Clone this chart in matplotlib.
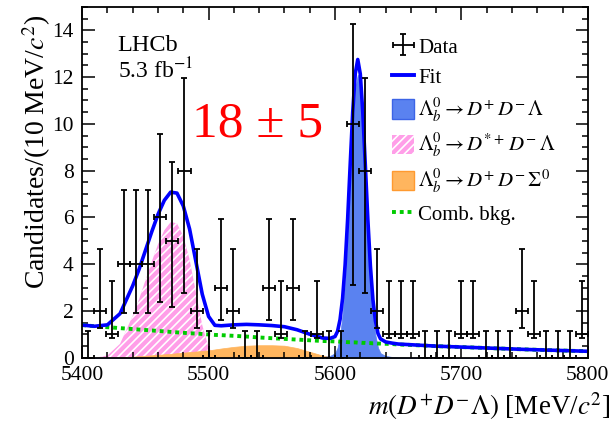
import matplotlib
matplotlib.use("Agg")
import matplotlib.pyplot as plt
from matplotlib.patches import Patch
from matplotlib.lines import Line2D
import numpy as np

plt.rcParams['font.family'] = ['Liberation Serif', 'DejaVu Serif']
plt.rcParams['mathtext.fontset'] = 'stix'
plt.rcParams['hatch.linewidth'] = 1.2

# binned data: 42 equal bins across the plotted mass window
bin_edges = np.linspace(5400, 5800, 43)
counts = [0, 2, 1, 4, 4, 4, 6, 5, 8, 2,
          0, 3, 2, 0, 0, 3, 1, 3, 0, 1,
          0, 0, 10, 8, 2, 1, 1, 1, 0, 0,
          0, 1, 1, 0, 0, 0, 2, 1, 0, 0,
          0, 1]

# asymmetric poisson intervals (lower, upper) per count
poisson_lo = {0: 0.0, 1: 0.17, 2: 0.71, 3: 1.37, 4: 2.09, 5: 2.84, 6: 3.62, 8: 5.23, 10: 6.89}
poisson_hi = {0: 1.14, 1: 3.30, 2: 4.64, 3: 5.92, 4: 7.16, 5: 8.38, 6: 9.58, 8: 11.94, 10: 14.27}

# fit components
m_curve = [5400, 5410, 5420, 5430, 5440, 5445, 5450, 5455, 5460, 5465,
           5470, 5475, 5480, 5485, 5490, 5495, 5500, 5505, 5510, 5520,
           5530, 5540, 5550, 5560, 5570, 5580, 5590, 5596, 5600, 5602,
           5604, 5606, 5608, 5610, 5612, 5614, 5616, 5618, 5620, 5622,
           5624, 5626, 5628, 5630, 5632, 5634, 5636, 5640, 5645, 5650,
           5660, 5680, 5700, 5750, 5800]
comb_bkg = [1.40, 1.35, 1.31, 1.27, 1.23, 1.21, 1.19, 1.17, 1.15, 1.13,
            1.11, 1.09, 1.07, 1.05, 1.04, 1.02, 1.00, 0.98, 0.97, 0.94,
            0.91, 0.87, 0.84, 0.81, 0.78, 0.75, 0.72, 0.71, 0.70, 0.70,
            0.69, 0.68, 0.68, 0.67, 0.67, 0.66, 0.66, 0.65, 0.65, 0.64,
            0.64, 0.63, 0.63, 0.62, 0.62, 0.61, 0.61, 0.60, 0.59, 0.57,
            0.55, 0.50, 0.46, 0.36, 0.28]
dstar_refl = [0.0, 0.0, 0.10, 0.60, 1.80, 2.50, 3.30, 4.10, 4.85, 5.45,
              5.80, 5.75, 5.20, 4.20, 2.80, 1.40, 0.45, 0.05, 0.0, 0.0,
              0.0, 0.0, 0.0, 0.0, 0.0, 0.0, 0.0, 0.0, 0.0, 0.0,
              0.0, 0.0, 0.0, 0.0, 0.0, 0.0, 0.0, 0.0, 0.0, 0.0,
              0.0, 0.0, 0.0, 0.0, 0.0, 0.0, 0.0, 0.0, 0.0, 0.0,
              0.0, 0.0, 0.0, 0.0, 0.0]
sigma0_bkg = [0.0, 0.0, 0.0, 0.02, 0.05, 0.07, 0.09, 0.11, 0.13, 0.15,
              0.17, 0.20, 0.22, 0.25, 0.27, 0.30, 0.32, 0.36, 0.40, 0.47,
              0.52, 0.54, 0.54, 0.52, 0.42, 0.26, 0.10, 0.04, 0.01, 0.0,
              0.0, 0.0, 0.0, 0.0, 0.0, 0.0, 0.0, 0.0, 0.0, 0.0,
              0.0, 0.0, 0.0, 0.0, 0.0, 0.0, 0.0, 0.0, 0.0, 0.0,
              0.0, 0.0, 0.0, 0.0, 0.0]
signal = [0.0, 0.0, 0.0, 0.0, 0.0, 0.0, 0.0, 0.0, 0.0, 0.0,
          0.0, 0.0, 0.0, 0.0, 0.0, 0.0, 0.0, 0.0, 0.0, 0.0,
          0.0, 0.0, 0.0, 0.0, 0.0, 0.0, 0.03, 0.08, 0.20, 0.43,
          0.95, 1.86, 3.29, 5.26, 7.57, 9.83, 11.48, 12.10, 11.48, 9.83,
          7.57, 5.26, 3.29, 1.86, 0.95, 0.43, 0.20, 0.08, 0.04, 0.02,
          0.01, 0.0, 0.0, 0.0, 0.0]

blue_fill = '#5a82f0'
pink_fill = '#ff9ee8'
orange_fill = '#ffb55e'
green = '#00cc00'

fig = plt.figure(figsize=(6.13, 4.26), dpi=100)
ax = fig.add_axes([0.134, 0.160, 0.825, 0.824])

m = np.array(m_curve)
total = np.array(comb_bkg) + np.array(dstar_refl) + np.array(sigma0_bkg) + np.array(signal)

ax.fill_between(m, 0, dstar_refl, facecolor=pink_fill, edgecolor='white', hatch='////', linewidth=0)
ax.fill_between(m, 0, sigma0_bkg, facecolor=orange_fill, edgecolor=orange_fill, linewidth=0.5)
ax.fill_between(m, 0, signal, facecolor=blue_fill, edgecolor=blue_fill, linewidth=0.5)
ax.plot(m, comb_bkg, color=green, ls=(0, (1, 1)), lw=2.8)
ax.plot(m, total, color='#0000ff', lw=2.6)

x = 0.5 * (bin_edges[:-1] + bin_edges[1:])
half_w = 0.5 * (bin_edges[1] - bin_edges[0])
y = np.array(counts)
lo = [poisson_lo[c] for c in counts]
hi = [poisson_hi[c] - c for c in counts]
data = ax.errorbar(x, y, xerr=half_w, yerr=[lo, hi], fmt='none', ecolor='black',
                   elinewidth=1.3, capsize=2.2, capthick=1.3, zorder=5)

ax.set_xlim(5400, 5800)
ax.set_ylim(0, 15)
ax.set_xticks(np.arange(5400, 5801, 100))
ax.set_xticks(np.arange(5400, 5801, 20), minor=True)
ax.set_yticks(np.arange(0, 15, 2))
ax.set_yticks(np.arange(0, 15.01, 0.5), minor=True)
ax.tick_params(which='both', direction='in', top=True, right=True, labelsize=15.5, width=1.1)
ax.tick_params(which='major', length=9, pad=6)
ax.tick_params(which='minor', length=4.5)
for s in ax.spines.values():
    s.set_linewidth(1.3)

ax.set_ylabel('Candidates/(10 MeV/$c^2$)', fontsize=20, loc='top')
ax.yaxis.set_label_coords(-0.058, 0.977)
ax.set_xlabel(r'$m(D^{+}D^{-}\mathit{\Lambda})$ [MeV/$c^{2}$]', fontsize=19.5, loc='right')
ax.xaxis.set_label_coords(1.045, -0.092)

ax.text(5428, 13.1, 'LHCb', fontsize=17.5)
ax.text(5428, 11.95, '5.3 fb$^{-1}$', fontsize=17)
ax.text(5487, 9.45, '18 ± 5', fontsize=37, color='#ff0000')

handles = [data,
           Line2D([], [], color='#0000ff', lw=2.8),
           Patch(facecolor=blue_fill, edgecolor='#3c64e6'),
           Patch(facecolor=pink_fill, edgecolor='white', hatch='////', lw=0),
           Patch(facecolor=orange_fill, edgecolor='#ff9a30'),
           Line2D([], [], color=green, ls=(0, (1, 1)), lw=2.8)]
labels = ['Data', 'Fit',
          r'$\mathit{\Lambda}_b^0 \rightarrow D^{+}\,D^{-}\,\mathit{\Lambda}$',
          r'$\mathit{\Lambda}_b^0 \rightarrow D^{*+}\,D^{-}\,\mathit{\Lambda}$',
          r'$\mathit{\Lambda}_b^0 \rightarrow D^{+}\,D^{-}\,\mathit{\Sigma}^0$',
          'Comb. bkg.']
ax.legend(handles, labels, loc='upper left', bbox_to_anchor=(0.613, 0.916), frameon=False,
          fontsize=15, handlelength=1.05, handleheight=1.05, handletextpad=0.2,
          labelspacing=0.4, borderaxespad=0, borderpad=0)

fig.savefig('out.png', dpi=100)
